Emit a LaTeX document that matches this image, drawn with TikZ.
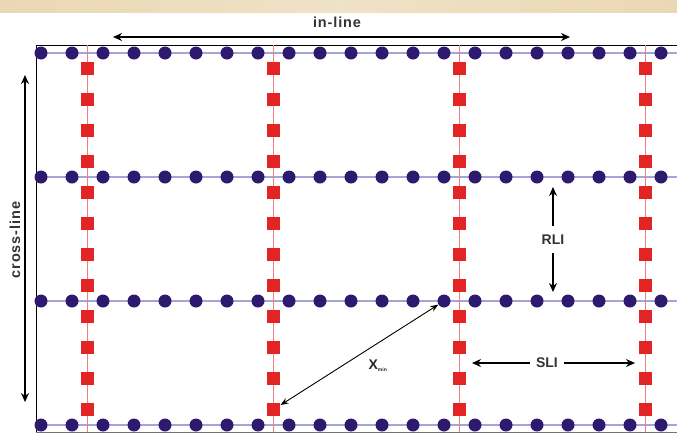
\documentclass[tikz,border=0pt]{standalone}
\usepackage{fontspec}
\setmainfont{Liberation Sans}
\usetikzlibrary{arrows.meta}
\definecolor{dotblue}{RGB}{45,26,110}
\definecolor{sqred}{RGB}{226,36,36}
\definecolor{rowline}{RGB}{165,165,215}
\definecolor{srcline}{RGB}{242,125,125}
\definecolor{band}{RGB}{233,216,180}

\begin{document}
\begin{tikzpicture}[x=1pt, y=-1pt, >={Stealth[length=9pt,width=8pt]},
    font=\fontsize{14}{16}\selectfont\bfseries,
    rcv/.style={circle, fill=dotblue, inner sep=0pt, minimum size=13pt},
    src/.style={rectangle, fill=sqred, inner sep=0pt, minimum size=13.5pt},
    dim/.style={<->, line width=1.2pt},
    lab/.style={fill=white, inner sep=5pt, text=black!80},
    axlab/.style={text=black!80, font=\fontsize{14.5}{16}\selectfont\bfseries\addfontfeature{LetterSpace=6}}]
  \useasboundingbox (0,0) rectangle (677,440);
  \shade[left color=band, right color=band, middle color=band!75!white] (0,0) rectangle (677,12);
  % frame
  \draw[line width=1pt] (677,45) -- (36,45) -- (36,432);
  \draw[line width=1pt, black!55] (36,432) -- (677,432);
  % receiver lines and source lines
  \foreach \r in {0,...,3}
    \draw[rowline, line width=1.4pt] (36,53+124*\r) -- (677,53+124*\r);
  \foreach \s in {0,...,3}
    \draw[srcline, line width=1pt] (87.5+186*\s,45) -- (87.5+186*\s,432);
  \foreach \r in {0,...,3}
    \foreach \k in {0,...,20}
      \node[rcv] (d-\r-\k) at (41+31*\k,53+124*\r) {};
  \foreach \s in {0,...,3}
    \foreach \j in {0,...,11}
      \node[src] (s-\s-\j) at (87.5+186*\s,68.5+31*\j) {};
  % in-line / cross-line
  \coordinate (inL) at (113,37);
  \coordinate (inR) at (570,37);
  \draw[dim, line width=1.5pt] (inL) -- (inR);
  \node[axlab] (inlab) at (337,22) {in-line};
  \coordinate (crT) at (25,75);
  \coordinate (crB) at (25,402);
  \draw[dim, line width=1.5pt] (crT) -- (crB);
  \node[axlab, rotate=90] (crlab) at (15,240) {cross-line};
  % spacings
  \coordinate (rliT) at (553,187);
  \coordinate (rliB) at (553,292);
  \draw[dim] (rliT) -- (rliB) node[midway, lab, inner ysep=9pt] (rlilab) {RLI};
  \coordinate (sliL) at (472,363);
  \coordinate (sliR) at (635,363);
  \draw[dim] (sliL) -- (sliR) node[pos=0.46, lab, inner xsep=6pt] (slilab) {SLI};
  \draw[dim, line width=0.9pt, >={Stealth[length=8pt,width=6pt]}] (s-1-11) -- (d-2-13);
  \node[text=black!85] (xlab) at (378,366) {X\textsubscript{\fontsize{5}{5}\selectfont min}};
\end{tikzpicture}
\end{document}
